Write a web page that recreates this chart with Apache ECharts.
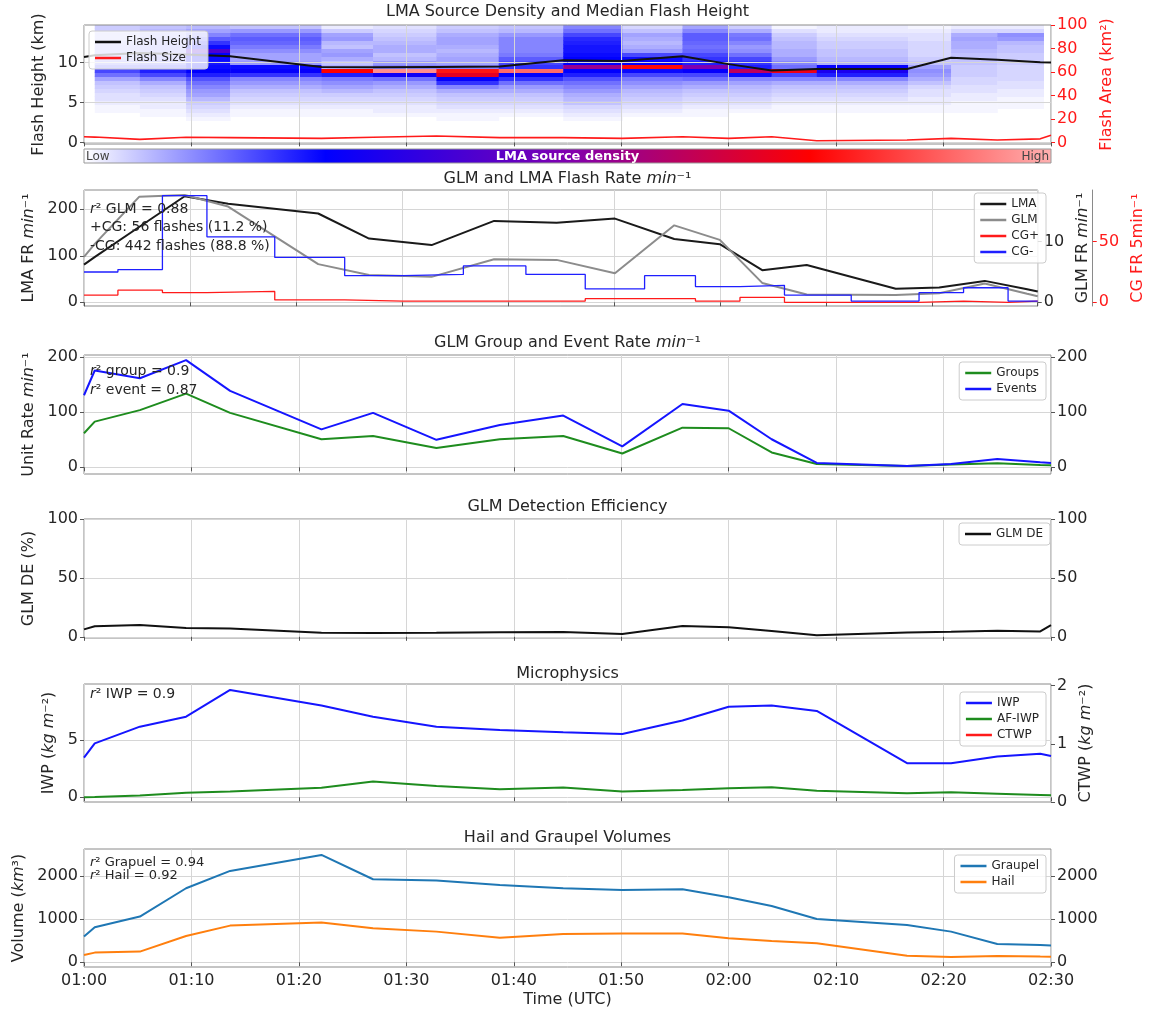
<!DOCTYPE html>
<html>
<head>
<meta charset="utf-8">
<script src="https://cdn.jsdelivr.net/npm/echarts@6/dist/echarts.min.js"></script>
<style>html,body{margin:0;padding:0;background:#fff}#c{width:1154px;height:1014px}</style>
</head>
<body>
<div id="c"></div>
<script>
// ---------------- DATA ----------------
// time in minutes after 01:00 UTC
const T = [0, 1, 5.2, 9.5, 13.6, 22.1, 26.9, 32.8, 38.7, 44.6, 50.1, 55.7, 60, 64, 68.2, 76.6, 80.7, 85, 89, 90];
const xTicks = [0, 10, 20, 30, 40, 50, 60, 70, 80, 90];

// Panel 1
const flashHeight = [10.7, 10.9, 11.2, 11.0, 10.8, 9.45, 9.4, 9.45, 9.5, 10.3, 10.2, 10.8, 9.8, 9.0, 9.2, 9.2, 10.6, 10.35, 10.05, 10.0];
const flashSize   = [4.8, 4.5, 2.5, 4.3, 4.0, 3.4, 4.3, 5.4, 4.0, 4.0, 3.4, 4.8, 3.4, 4.8, 1.4, 2.0, 3.4, 2.0, 3.0, 6.0];
const densityTimeEdges = [1, 5.2, 9.5, 13.6, 22.1, 26.9, 32.8, 38.6, 44.6, 50.1, 55.7, 60, 64, 68.2, 76.7, 80.7, 85, 89.3];
const densityHeightEdges = [2.75, 3.25, 3.75, 4.25, 4.75, 5.25, 5.75, 6.25, 6.75, 7.25, 7.75, 8.25, 8.75, 9.25, 9.75, 10.25, 10.75, 11.25, 11.75, 12.25, 12.75, 13.25, 13.75, 14.25, 14.75];
// LMA source density (relative, 0-100), one row per time column, bottom -> top
const sourceDensity = [
  [0,0,1,1,2,3,3,4,5,6,9,14,18,16,12,10,9,8,8,7,6,6,5,5],
  [0,1,1,2,2,3,4,5,6,8,12,18,22,18,14,12,11,10,10,9,9,8,7,6],
  [1,2,3,4,5,7,9,10,12,14,17,22,25,24,23,24,25,40,24,20,16,12,9,7],
  [0,1,1,2,3,4,5,6,8,10,12,20,26,24,10,9,9,11,13,15,16,14,10,6],
  [0,1,1,2,3,4,5,7,9,11,13,22,75,8,6,8,10,9,6,7,10,9,5,2],
  [0,1,2,2,3,4,5,6,8,10,14,28,95,12,10,7,6,8,8,7,6,5,4,3],
  [1,1,2,3,4,5,6,8,12,20,26,70,78,12,9,9,8,7,8,9,9,8,6,5],
  [0,1,2,3,4,5,6,8,10,14,20,25,90,20,18,16,13,12,12,12,12,10,7,6],
  [1,2,3,4,6,7,8,10,12,14,17,22,25,55,25,25,24,23,23,22,21,18,14,12],
  [0,1,2,3,4,5,6,7,9,11,13,18,24,76,26,24,18,10,8,7,8,9,6,4],
  [0,1,1,2,3,4,5,6,8,10,14,18,26,50,22,20,18,15,14,15,16,16,12,9],
  [0,0,1,2,3,4,5,6,7,9,12,24,62,22,20,18,14,11,10,12,14,13,8,5],
  [0,0,1,1,2,3,4,5,6,8,12,18,72,14,12,10,8,8,7,7,6,5,3,1],
  [0,0,1,1,2,3,4,5,6,8,12,22,30,26,8,7,6,6,5,5,4,3,2,2],
  [0,0,1,1,2,2,3,3,4,6,8,10,11,9,6,5,4,4,4,4,3,3,2,1],
  [0,0,1,1,1,2,2,3,3,4,4,5,5,5,6,6,6,7,8,8,9,8,4,2],
  [0,0,0,1,1,1,2,2,3,3,4,4,4,4,5,5,5,6,6,7,10,11,4,2]
];
const densityColors = ['#ffffff', '#0000ff', '#8000b0', '#ff0000', '#ffb0b0'];

// Panel 2
const lmaRate = [81, 97, 162, 228, 212, 191, 137, 123, 175, 171, 180, 136, 125, 69, 80, 29, 32, 46, 28, 23];
const glmRate = [7.5, 9.6, 17.4, 17.7, 15.8, 6.3, 4.5, 4.2, 7.1, 7.0, 4.8, 12.7, 10.3, 3.2, 1.3, 1.2, 1.5, 3.1, 1.4, 1.0];
const cgEdges = [0, 3.2, 7.4, 11.6, 18, 24.6, 30.1, 35.8, 41.7, 47.3, 52.9, 57.7, 61.9, 66.1, 72.4, 78.8, 83, 87.2, 90];
const cgNeg = [25, 27, 88, 54, 37, 22, 23, 30, 23, 11, 22, 13, 14, 6, 1, 8, 12, 1];
const cgPos = [6, 10, 8, 9, 2, 1, 1, 1, 1, 3, 3, 1, 4, 0, 0, 1, 0, 1];

// Panel 3
const groupRate = [62, 83, 104, 134, 99, 51, 57, 35, 51, 57, 25, 72, 71, 27, 6, 2.5, 5, 7.5, 4, 3.5];
const eventRate = [131, 176, 162, 195, 139, 69, 99, 50, 77, 94, 38, 115, 103, 51, 8, 2.5, 6, 15, 9, 8];

// Panel 4
const glmDE = [6.3, 9, 10, 7.5, 7.1, 3.4, 3.3, 3.4, 3.9, 4.0, 2.3, 9.2, 8.2, 5, 1.3, 3.6, 4.2, 5.2, 4.6, 10];

// Panel 5
const iwp   = [3.46, 4.7, 6.16, 7.03, 9.36, 8.0, 7.03, 6.16, 5.87, 5.67, 5.52, 6.69, 7.9, 8.0, 7.53, 2.97, 2.97, 3.55, 3.8, 3.6];
const afIwp = [0, 0.02, 0.15, 0.4, 0.5, 0.84, 1.37, 0.99, 0.7, 0.85, 0.5, 0.64, 0.78, 0.87, 0.58, 0.35, 0.44, 0.32, 0.2, 0.17];
const ctwp  = [];

// Panel 6
const graupel = [595, 811, 1058, 1714, 2116, 2486, 1923, 1892, 1792, 1714, 1676, 1691, 1506, 1305, 1004, 865, 710, 425, 400, 386];
const hail    = [170, 224, 247, 610, 849, 919, 788, 710, 571, 656, 664, 664, 556, 494, 440, 154, 124, 147, 133, 131];

// ---------------- STYLE ----------------
const FF = 'DejaVu Sans';
const TXT = '#262626';
const GRIDC = '#d6d6d6';
const FRAME = '#8a8a8a';
const RED = '#ff1a1a';
const RICH = {
  r:  {fontFamily: FF, fontSize: 16, color: TXT},
  i:  {fontFamily: FF, fontSize: 16, color: TXT, fontStyle: 'italic'},
  rr: {fontFamily: FF, fontSize: 16, color: RED},
  ri: {fontFamily: FF, fontSize: 16, color: RED, fontStyle: 'italic'}
};
const ARICH = {
  r: {fontFamily: FF, fontSize: 14, color: TXT},
  i: {fontFamily: FF, fontSize: 14, color: TXT, fontStyle: 'italic'}
};

const pair = (xs, ys) => ys.map((v, k) => [xs[k], v]);
const stepPair = (edges, vals) => edges.map((t, k) => [t, vals[Math.min(k, vals.length - 1)]]);

const grids = [
  {top: 25, height: 119},
  {top: 190, height: 116},
  {top: 355, height: 119},
  {top: 519, height: 119},
  {top: 684, height: 118},
  {top: 849, height: 118}
].map(g => Object.assign({left: 84, right: 103, show: true, borderColor: FRAME, borderWidth: 1, backgroundColor: 'transparent'}, g));

const fmtTime = v => { const h = 1 + Math.floor(v / 60); const m = Math.round(v % 60); return '0' + h + ':' + String(m).padStart(2, '0'); };

const xAxes = grids.map((g, i) => ({
  type: 'value', gridIndex: i, min: 0, max: 90, interval: 10,
  axisLine: {show: false},
  axisTick: {show: true, length: 4, lineStyle: {color: '#555'}},
  axisLabel: {show: i === 5, margin: 6, color: TXT, fontFamily: FF, fontSize: 16, formatter: fmtTime},
  splitLine: {show: true, lineStyle: {color: GRIDC, width: 1}},
  name: i === 5 ? 'Time (UTC)' : '', nameLocation: 'middle', nameGap: 25,
  nameTextStyle: {fontFamily: FF, fontSize: 16, color: TXT}
}));

function yAx(grid, pos, min, max, ticks, name, gap, opt) {
  opt = opt || {};
  const col = opt.color || TXT;
  return {
    type: 'value', gridIndex: grid, position: pos, min: min, max: max, offset: opt.offset || 0,
    axisLine: {show: !!opt.line, lineStyle: {color: FRAME}},
    axisTick: {show: true, length: 4, customValues: ticks, lineStyle: {color: opt.color || '#555'}},
    axisLabel: {show: true, customValues: ticks, margin: 6, color: col, fontFamily: FF, fontSize: 16, formatter: v => String(v)},
    splitLine: {show: pos === 'left', lineStyle: {color: GRIDC, width: 1}},
    name: name, nameLocation: 'middle', nameGap: gap, nameRotate: 90,
    nameTextStyle: {fontFamily: FF, fontSize: 16, color: col, rich: RICH}
  };
}

const yAxes = [
  yAx(0, 'left', -0.2, 14.7, [0, 5, 10], 'Flash Height (km)', 29),
  yAx(0, 'right', -1.4, 100, [0, 20, 40, 60, 80, 100], '{rr|Flash Area (km²)}', 35, {color: RED}),
  yAx(1, 'left', -8, 241.5, [0, 100, 200], '{r|LMA FR }{i|min}{r|⁻¹}', 40),
  yAx(1, 'right', -0.61, 18.53, [0, 10], '{r|GLM FR }{i|min}{r|⁻¹}', 32),
  yAx(1, 'right', -3.05, 92.65, [0, 50], '{rr|CG FR 5min⁻¹}', 29, {color: RED, offset: 55, line: true}),
  yAx(2, 'left', -12.2, 204.2, [0, 100, 200], '{r|Unit Rate }{i|min}{r|⁻¹}', 41),
  yAx(2, 'right', -12.2, 204.2, [0, 100, 200], '', 30),
  yAx(3, 'left', -1, 100, [0, 50, 100], 'GLM DE (%)', 43),
  yAx(3, 'right', -1, 100, [0, 50, 100], '', 30),
  yAx(4, 'left', -0.41, 9.88, [0, 5], '{r|IWP (}{i|kg m}{r|⁻²)}', 26),
  yAx(4, 'right', 0, 2.03, [0, 1, 2], '{r|CTWP (}{i|kg m}{r|⁻²)}', 26),
  yAx(5, 'left', -109, 2623, [0, 1000, 2000], '{r|Volume (}{i|km}{r|³)}', 53),
  yAx(5, 'right', -109, 2623, [0, 1000, 2000], '', 30)
];

// heatmap cells
const cells = [];
sourceDensity.forEach((col, c) => {
  col.forEach((d, k) => {
    if (d > 0) cells.push([densityTimeEdges[c], densityTimeEdges[c + 1], densityHeightEdges[k], densityHeightEdges[k + 1], d]);
  });
});

function line(name, xi, yi, data, color, width, extra) {
  return Object.assign({
    name: name, type: 'line', xAxisIndex: xi, yAxisIndex: yi, data: data,
    showSymbol: false, symbol: 'none', color: color,
    lineStyle: {color: color, width: width}, z: 3, animation: false
  }, extra || {});
}

const series = [
  {
    name: 'LMA source density', type: 'custom', xAxisIndex: 0, yAxisIndex: 0, z: -1, data: cells,
    encode: {x: [0, 1], y: [2, 3]},
    renderItem: function (params, api) {
      const p0 = api.coord([api.value(0), api.value(3)]);
      const p1 = api.coord([api.value(1), api.value(2)]);
      const rect = echarts.graphic.clipRectByRect(
        {x: p0[0], y: p0[1], width: p1[0] - p0[0], height: p1[1] - p0[1]},
        {x: params.coordSys.x, y: params.coordSys.y, width: params.coordSys.width, height: params.coordSys.height});
      return rect && {type: 'rect', shape: {x: rect.x, y: rect.y, width: rect.width + 0.5, height: rect.height + 0.5}, style: {fill: api.visual('color')}};
    },
    animation: false
  },
  line('Flash Height', 0, 0, pair(T, flashHeight), '#111111', 2),
  line('Flash Size', 0, 1, pair(T, flashSize), RED, 1.6),
  line('LMA', 1, 2, pair(T, lmaRate), '#1a1a1a', 2),
  line('GLM', 1, 3, pair(T, glmRate), '#8c8c8c', 2),
  line('CG+', 1, 4, stepPair(cgEdges, cgPos), RED, 1.3, {step: 'end'}),
  line('CG-', 1, 4, stepPair(cgEdges, cgNeg), '#1f1fff', 1.3, {step: 'end'}),
  line('Groups', 2, 5, pair(T, groupRate), '#1e8c1e', 2),
  line('Events', 2, 5, pair(T, eventRate), '#1515ff', 2),
  line('GLM DE', 3, 7, pair(T, glmDE), '#111111', 2),
  line('IWP', 4, 9, pair(T, iwp), '#1515ff', 2),
  line('AF-IWP', 4, 9, pair(T, afIwp), '#1e8c1e', 2),
  line('CTWP', 4, 10, pair(T, ctwp), RED, 2),
  line('Graupel', 5, 11, pair(T, graupel), '#1f77b4', 2),
  line('Hail', 5, 11, pair(T, hail), '#ff7f0e', 2)
];

function legend(names, pos) {
  return Object.assign({
    data: names, orient: 'vertical', icon: 'rect', itemWidth: 26, itemHeight: 2.5, itemGap: 4,
    padding: [5, 7, 5, 6], backgroundColor: 'rgba(255,255,255,0.8)', borderColor: '#cccccc', borderWidth: 1, borderRadius: 3,
    selectedMode: false, textStyle: {fontFamily: FF, fontSize: 12, color: TXT}
  }, pos);
}

const titles = [
  'LMA Source Density and Median Flash Height',
  '{r|GLM and LMA Flash Rate }{i|min}{r|⁻¹}',
  '{r|GLM Group and Event Rate }{i|min}{r|⁻¹}',
  'GLM Detection Efficiency',
  'Microphysics',
  'Hail and Graupel Volumes'
];
const titleTop = [4, 171, 335, 499, 666, 830];

function note(text, x, y, size) {
  const s = size || 14;
  const rich = {r: {fontFamily: FF, fontSize: s, color: TXT}, i: {fontFamily: FF, fontSize: s, color: TXT, fontStyle: 'italic'}};
  return {type: 'text', x: x, y: y, z: 10, style: {text: text, rich: rich, fill: TXT, fontFamily: FF, fontSize: s, verticalAlign: 'middle', align: 'left'}};
}

const cbStops = densityColors.map((c, k) => ({offset: k / (densityColors.length - 1), color: c}));

const option = {
  animation: false,
  backgroundColor: '#ffffff',
  textStyle: {fontFamily: FF},
  title: titles.map((t, i) => ({
    text: t, left: 567.5, top: titleTop[i], textAlign: 'center', padding: 0,
    textStyle: {fontFamily: FF, fontSize: 16, fontWeight: 'normal', color: TXT, rich: RICH}
  })),
  grid: grids,
  xAxis: xAxes,
  yAxis: yAxes,
  visualMap: [{type: 'continuous', show: false, seriesIndex: 0, dimension: 4, min: 0, max: 100, inRange: {color: densityColors}}],
  legend: [
    legend(['Flash Height', 'Flash Size'], {left: 89, top: 31}),
    legend(['LMA', 'GLM', 'CG+', 'CG-'], {right: 108, top: 193}),
    legend(['Groups', 'Events'], {right: 108, top: 362}),
    legend(['GLM DE'], {right: 104, top: 523}),
    legend(['IWP', 'AF-IWP', 'CTWP'], {right: 108, top: 692}),
    legend(['Graupel', 'Hail'], {right: 108, top: 855})
  ],
  graphic: [
    {type: 'rect', z: 5, shape: {x: 84, y: 149, width: 967, height: 14},
      style: {fill: new echarts.graphic.LinearGradient(0, 0, 1, 0, cbStops), stroke: '#999', lineWidth: 1}},
    {type: 'text', z: 6, x: 86, y: 156.5, style: {text: 'Low', fill: '#444', fontFamily: FF, fontSize: 12, verticalAlign: 'middle', align: 'left'}},
    {type: 'text', z: 6, x: 1049, y: 156.5, style: {text: 'High', fill: '#444', fontFamily: FF, fontSize: 12, verticalAlign: 'middle', align: 'right'}},
    {type: 'text', z: 6, x: 567.5, y: 156.5, style: {text: 'LMA source density', fill: '#ffffff', fontFamily: FF, fontSize: 13, fontWeight: 'bold', verticalAlign: 'middle', align: 'center'}},
    note('{i|r}{r|² GLM = 0.88}', 90, 209),
    note('{r|+CG: 56 flashes (11.2 %)}', 90, 227),
    note('{r|-CG: 442 flashes (88.8 %)}', 90, 246),
    note('{i|r}{r|² group = 0.9}', 90, 371),
    note('{i|r}{r|² event = 0.87}', 90, 390),
    note('{i|r}{r|² IWP = 0.9}', 90, 694),
    note('{i|r}{r|² Grapuel = 0.94}', 90, 863, 13),
    note('{i|r}{r|² Hail = 0.92}', 90, 876, 13)
  ],
  series: series
};

const chart = echarts.init(document.getElementById('c'), null, {renderer: 'canvas', width: 1154, height: 1014});
chart.setOption(option);
</script>
</body>
</html>
